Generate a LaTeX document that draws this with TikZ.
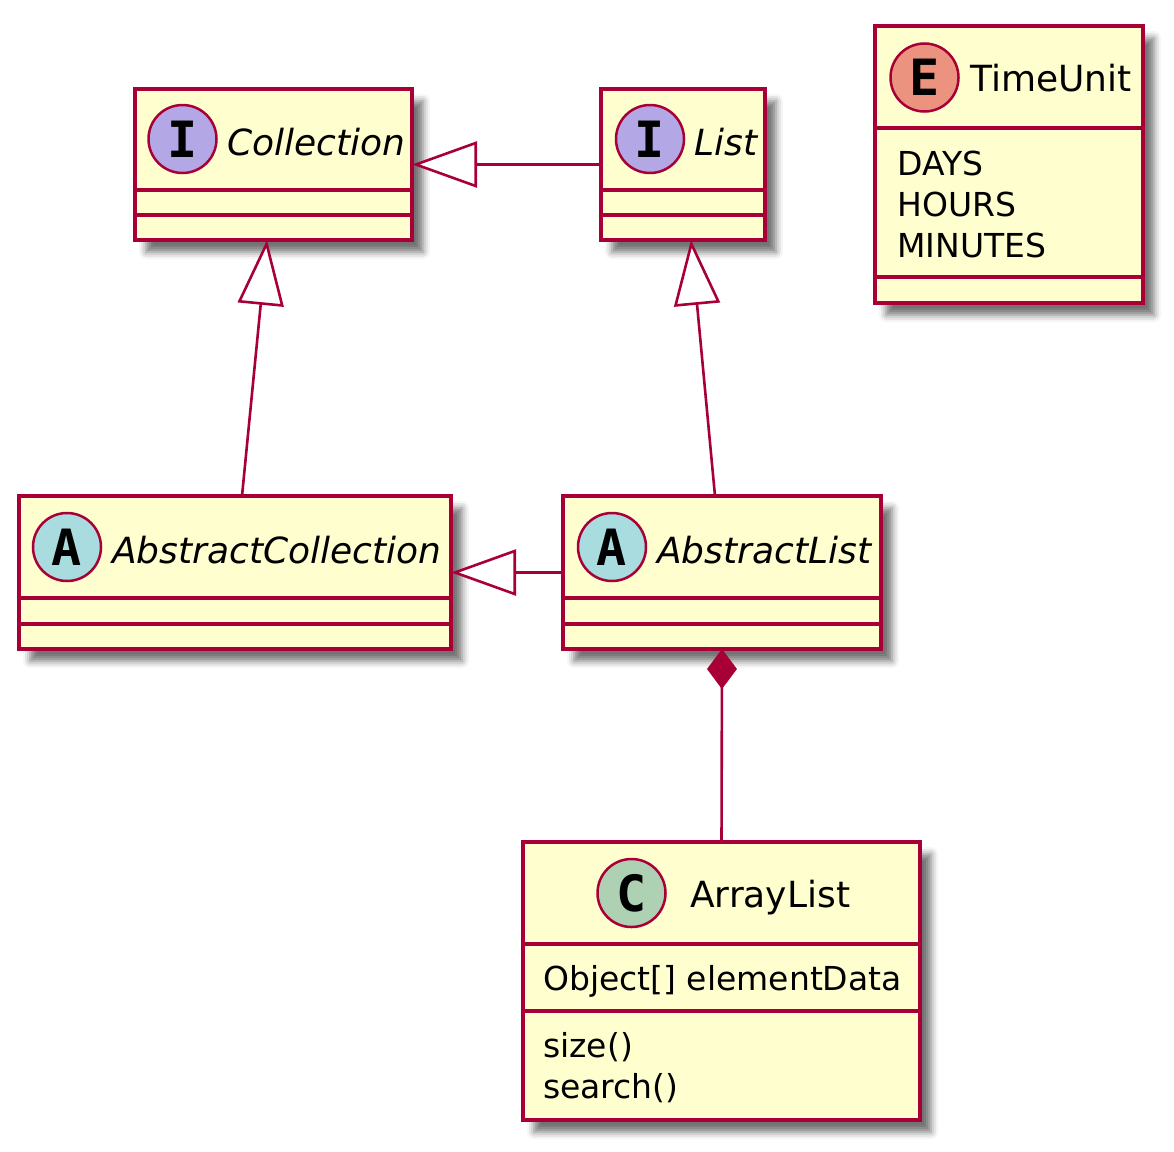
\documentclass[tikz,border=0pt]{standalone}
\usepackage{fontspec}
\setmainfont{DejaVu Sans}
\newfontfamily\letterfont{DejaVu Sans Mono}
\usetikzlibrary{arrows.meta,shadows.blur}
\definecolor{umlborder}{HTML}{A80036}
\definecolor{umlfill}{HTML}{FEFECE}
\definecolor{ifacecol}{HTML}{B4A7E5}
\definecolor{abstractcol}{HTML}{A9DCDF}
\definecolor{classcol}{HTML}{ADD1B2}
\definecolor{enumcol}{HTML}{EB937F}
\tikzset{
  umlbox/.style={draw=umlborder, fill=umlfill, line width=3.5pt, rectangle, inner sep=0pt, outer sep=0pt, anchor=north west,
    blur shadow={shadow xshift=11pt, shadow yshift=-12pt, shadow blur radius=7pt, shadow opacity=55}},
  sepline/.style={draw=umlborder, line width=3.5pt},
  badge/.style={circle, draw=umlborder, line width=2.5pt, minimum size=68pt, inner sep=0pt, font=\letterfont\bfseries\fontsize{50}{50}\selectfont},
  titletext/.style={anchor=base west, inner sep=0pt, font=\fontsize{36}{41}\selectfont},
  membertext/.style={anchor=base west, inner sep=0pt, font=\fontsize{33}{41}\selectfont},
  edge/.style={draw=umlborder, line width=2.6pt},
  gen/.style={edge, -{Triangle[open, length=65pt, width=46pt, fill=white]}},
  comp/.style={edge, {Diamond[length=40pt, width=30pt, fill=umlborder]}-},
}
\begin{document}
\begin{tikzpicture}[x=1pt, y=-1pt]
\useasboundingbox (0,0) rectangle (1174,1151);

% Collection
\node[umlbox, minimum width=277pt, minimum height=151pt] (coll) at (135,89) {};
\draw[sepline] (135,190) -- (412,190);
\draw[sepline] (135,215) -- (412,215);
\node[badge, fill=ifacecol] (collb) at (182.5,139) {I};
\node[titletext] (collt) at (227,155) {\itshape Collection};

% List
\node[umlbox, minimum width=164pt, minimum height=151pt] (list) at (601,89) {};
\draw[sepline] (601,190) -- (765,190);
\draw[sepline] (601,215) -- (765,215);
\node[badge, fill=ifacecol] (listb) at (650,139) {I};
\node[titletext] (listt) at (694,155) {\itshape List};

% TimeUnit
\node[umlbox, minimum width=268pt, minimum height=277pt] (time) at (875,26) {};
\draw[sepline] (875,128) -- (1143,128);
\draw[sepline] (875,277) -- (1143,277);
\node[badge, fill=enumcol] (timeb) at (924.5,77.5) {E};
\node[titletext] (timet) at (970,91) {TimeUnit};
\node[membertext] (days) at (897,175) {DAYS};
\node[membertext] (hours) at (897,216) {HOURS};
\node[membertext] (minutes) at (897,257) {MINUTES};

% AbstractCollection
\node[umlbox, minimum width=432pt, minimum height=153pt] (acoll) at (19,496) {};
\draw[sepline] (19,598) -- (451,598);
\draw[sepline] (19,624) -- (451,624);
\node[badge, fill=abstractcol] (acollb) at (67,547) {A};
\node[titletext] (acollt) at (112,563) {\itshape AbstractCollection};

% AbstractList
\node[umlbox, minimum width=318pt, minimum height=153pt] (alist) at (563,496) {};
\draw[sepline] (563,598) -- (881,598);
\draw[sepline] (563,624) -- (881,624);
\node[badge, fill=abstractcol] (alistb) at (612,547) {A};
\node[titletext] (alistt) at (657,563) {\itshape AbstractList};

% ArrayList
\node[umlbox, minimum width=397pt, minimum height=278pt] (arr) at (523,842) {};
\draw[sepline] (523,944) -- (920,944);
\draw[sepline] (523,1011) -- (920,1011);
\node[badge, fill=classcol] (arrb) at (631.5,893) {C};
\node[titletext] (arrt) at (690,907) {ArrayList};
\node[membertext] (field) at (543,990) {Object[] elementData};
\node[membertext] (size) at (543,1057) {size()};
\node[membertext] (search) at (543,1098) {search()};

% connectors
\draw[gen] (list.west) -- (coll.east);
\draw[gen] (alist.west) -- (acoll.east);
\draw[gen] ([xshift=7pt]acoll.north) -- ([xshift=-6.5pt]coll.south);
\draw[gen] ([xshift=-7pt]alist.north) -- ([xshift=8pt]list.south);
\draw[comp] (alist.south) -- (arr.north);
\end{tikzpicture}
\end{document}
